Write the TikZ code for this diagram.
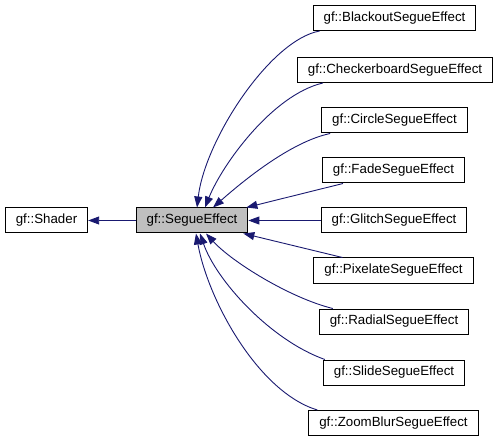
\documentclass[tikz,border=0pt]{standalone}
\usepackage{fontspec}
\setmainfont{Liberation Sans}
\usepackage{xcolor}
\usetikzlibrary{arrows.meta}
\definecolor{edgeblue}{HTML}{191970}
\definecolor{curgray}{HTML}{BFBFBF}

\begin{document}
\begin{tikzpicture}[x=1pt,y=-1pt,
    cls/.style={draw=black,line width=1pt,fill=white,inner xsep=10.5pt,inner ysep=0pt,
        minimum height=25pt,font=\fontsize{13.3}{16}\selectfont},
    inh/.style={draw=edgeblue,line width=0.9pt,{Triangle[length=11pt,width=8pt]}-}]
        \useasboundingbox (0,0) rectangle (497,443);

        \node[cls] (shader) at (46.5,220.5) {gf::Shader};
        \node[cls,fill=curgray] (segue) at (192,220.5) {gf::SegueEffect};

        \node[cls] (blackout) at (394.5,18) {gf::BlackoutSegueEffect};
        \node[cls] (checker) at (395,70) {gf::CheckerboardSegueEffect};
        \node[cls] (circle) at (394.5,120.5) {gf::CircleSegueEffect};
        \node[cls] (fade) at (393.5,170.5) {gf::FadeSegueEffect};
        \node[cls] (glitch) at (394,220.5) {gf::GlitchSegueEffect};
        \node[cls] (pixelate) at (393.5,270.5) {gf::PixelateSegueEffect};
        \node[cls] (radial) at (394,321.5) {gf::RadialSegueEffect};
        \node[cls] (slide) at (394,372.5) {gf::SlideSegueEffect};
        \node[cls] (zoomblur) at (393.5,423) {gf::ZoomBlurSegueEffect};

        \draw[inh] (shader.east) -- (segue.west);

        \draw[inh] ([xshift=5pt]segue.north) .. controls (205,140) and (270,40) .. ([xshift=7pt]blackout.south west);
        \draw[inh] ([xshift=13pt]segue.north) .. controls (222,165) and (272,95) .. ([xshift=26pt]checker.south west);
        \draw[inh] ([xshift=21pt]segue.north) .. controls (242,182) and (290,142) .. ([xshift=9pt]circle.south west);
        \draw[inh] ([xshift=-2pt]segue.north east) -- ([xshift=21pt]fade.south west);
        \draw[inh] (segue.east) -- (glitch.west);
        \draw[inh] ([xshift=-5pt]segue.south east) -- ([xshift=29pt]pixelate.north west);
        \draw[inh] ([xshift=14pt]segue.south) .. controls (232,262) and (290,298) .. ([xshift=14pt]radial.north west);
        \draw[inh] ([xshift=8pt]segue.south) .. controls (216,280) and (270,340) .. ([xshift=2pt]slide.north west);
        \draw[inh] ([xshift=4pt]segue.south) .. controls (208,300) and (258,392) .. ([xshift=9pt]zoomblur.north west);
    \end{tikzpicture}
\end{document}
